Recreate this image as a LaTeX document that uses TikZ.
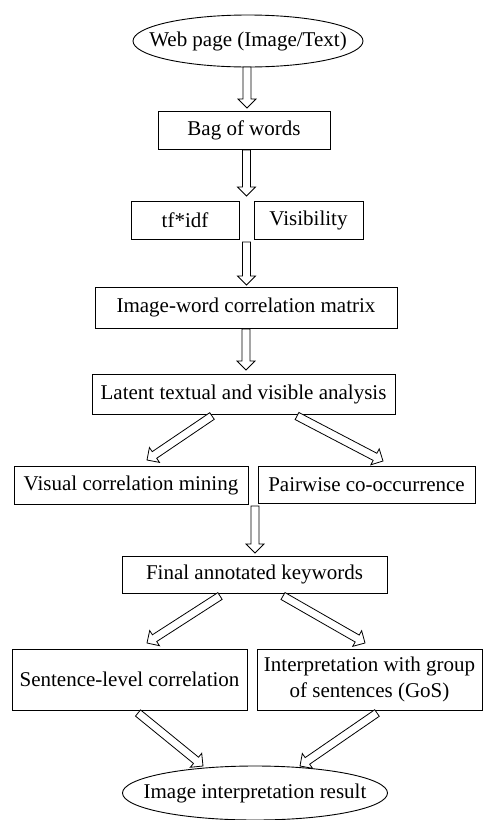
\documentclass[tikz,border=0pt]{standalone}
\usepackage{fontspec}
\setmainfont{Liberation Serif}
\usetikzlibrary{shapes.geometric,calc}

% hollow block arrow from #1 (tail) to #2 (tip)
\newcommand\hollowarrow[2]{%
  \path ($(#2)!9pt!(#1)$) coordinate (neck);
  \draw[blockarrow]
    ($(#1)!4pt!-90:(#2)$) -- ($(neck)!4pt!-90:(#2)$) --
    ($(neck)!9pt!-90:(#2)$) -- (#2) --
    ($(neck)!9pt!90:(#2)$) -- ($(neck)!4pt!90:(#2)$) --
    ($(#1)!4pt!90:(#2)$) -- cycle;
}

\begin{document}
\begin{tikzpicture}[x=1pt,y=-1pt,
  every node/.style={font=\fontsize{21}{26}\selectfont},
  box/.style={draw, line width=0.9pt, inner sep=0pt, align=center},
  oval/.style={draw, ellipse, line width=0.9pt, inner sep=0pt},
  blockarrow/.style={draw, fill=white, line width=0.8pt, line join=miter}]
\useasboundingbox (0,0) rectangle (483,820);

% nodes
\node[oval, minimum width=230pt, minimum height=52pt,
      label=center:{Web page (Image/Text)}] (web) at (248,41) {};
\node[box, minimum width=172pt, minimum height=38pt] (bag) at (244,130) {Bag of words};
\node[box, minimum width=108pt, minimum height=38pt] (tfidf) at (185,220) {tf*idf};
\node[box, minimum width=109pt, minimum height=38pt] (vis) at (308.5,220) {Visibility};
\node[box, minimum width=302pt, minimum height=41pt] (iwc) at (246,307.5) {Image-word correlation matrix};
\node[box, minimum width=303pt, minimum height=40pt] (lat) at (243.5,394) {Latent textual and visible analysis};
\node[box, minimum width=234pt, minimum height=38pt] (visual) at (131,485) {Visual correlation mining};
\node[box, minimum width=217pt, minimum height=37pt] (pair) at (366.5,485) {Pairwise co-occurrence};
\node[box, minimum width=265pt, minimum height=37pt] (final) at (254.5,574.5) {Final annotated keywords};
\node[box, minimum width=235pt, minimum height=61pt] (sent) at (129.5,679.5) {Sentence-level correlation};
\node[box, minimum width=225pt, minimum height=61pt] (gos) at (369.5,679.5) {Interpretation with group\\of sentences (GoS)};
\node[oval, minimum width=265pt, minimum height=54pt,
      label=center:{Image interpretation result}] (res) at (255,793) {};

% arrow end points
\coordinate (a1s) at (247,67);    \coordinate (a1t) at (247,108);
\coordinate (a2s) at (246.5,150); \coordinate (a2t) at (246.5,196);
\coordinate (a3s) at (246.5,242); \coordinate (a3t) at (246.5,285);
\coordinate (a4s) at (246,329);   \coordinate (a4t) at (246,370);
\coordinate (b1s) at (212,416);   \coordinate (b1t) at (147,460);
\coordinate (b2s) at (297,416);   \coordinate (b2t) at (383,461);
\coordinate (a5s) at (255,506);   \coordinate (a5t) at (255,553);
\coordinate (c1s) at (220,596);   \coordinate (c1t) at (147,643);
\coordinate (c2s) at (283,596);   \coordinate (c2t) at (365,643);
\coordinate (d1s) at (138,713);   \coordinate (d1t) at (203,766);
\coordinate (d2s) at (377,713);   \coordinate (d2t) at (300,766);

% connectors
\hollowarrow{a1s}{a1t}
\hollowarrow{a2s}{a2t}
\hollowarrow{a3s}{a3t}
\hollowarrow{a4s}{a4t}
\hollowarrow{b1s}{b1t}
\hollowarrow{b2s}{b2t}
\hollowarrow{a5s}{a5t}
\hollowarrow{c1s}{c1t}
\hollowarrow{c2s}{c2t}
\hollowarrow{d1s}{d1t}
\hollowarrow{d2s}{d2t}
\end{tikzpicture}
\end{document}
